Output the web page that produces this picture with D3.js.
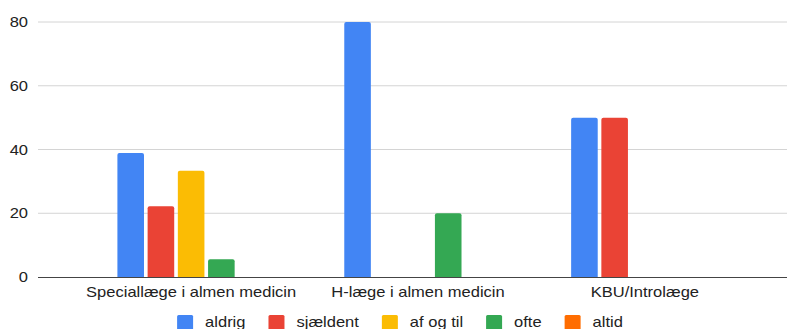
<!DOCTYPE html>
<html>
<head>
<meta charset="utf-8">
<script src="https://cdn.jsdelivr.net/npm/d3@7"></script>
<style>
  body { margin: 0; background: #fff; }
  text { font-family: "Liberation Sans", Arial, sans-serif; fill: #222; }
</style>
</head>
<body>
<div id="chart"></div>
<script>
// categories and series
var categories = ["Speciallæge i almen medicin", "H-læge i almen medicin", "KBU/Introlæge"];
var seriesNames = ["aldrig", "sjældent", "af og til", "ofte", "altid"];
var aldrig = [38.9, 80, 50];
var sjaeldent = [22.2, 0, 50];
var afOgTil = [33.3, 0, 0];
var ofte = [5.6, 20, 0];
var altid = [0, 0, 0];
var yTicks = [0, 20, 40, 60, 80];
var colors = ["#4285F4", "#EA4335", "#FBBC04", "#34A853", "#FF6D01"];

var seriesValues = [aldrig, sjaeldent, afOgTil, ofte, altid];

var width = 787, height = 329;
var margin = {top: 22, right: 0, bottom: 52, left: 38};
var stretch = 1.18; // text in the original looks a bit wide

var svg = d3.select("#chart").append("svg")
    .attr("width", width)
    .attr("height", height);

function place(x, yy) {
    return "translate(" + x + "," + yy + ") scale(" + stretch + ",1)";
}

var y = d3.scaleLinear()
    .domain([0, 80])
    .range([height - margin.bottom, margin.top]);

var x0 = d3.scaleBand()
    .domain(categories)
    .range([margin.left, 798])
    .paddingInner(0.35)
    .paddingOuter(0.35);

var x1 = d3.scaleBand()
    .domain(seriesNames)
    .range([0, x0.bandwidth()])
    .paddingInner(0.12);

var color = d3.scaleOrdinal().domain(seriesNames).range(colors);

// gridlines
svg.append("g")
    .selectAll("line")
    .data(yTicks.filter(d => d > 0))
    .enter().append("line")
    .attr("x1", margin.left)
    .attr("x2", width)
    .attr("y1", d => y(d))
    .attr("y2", d => y(d))
    .attr("stroke", "#d4d4d4")
    .attr("stroke-width", 1);

// y labels
svg.append("g")
    .selectAll("text")
    .data(yTicks)
    .enter().append("text")
    .attr("transform", d => place(28, y(d)))
    .attr("dy", "0.36em")
    .attr("text-anchor", "end")
    .attr("font-size", "14px")
    .text(d => d);

// bars
var rows = [];
categories.forEach(function(c, i) {
    seriesNames.forEach(function(s, j) {
        rows.push({cat: c, series: s, value: seriesValues[j][i]});
    });
});

svg.append("g")
    .selectAll("path")
    .data(rows.filter(d => d.value > 0))
    .enter().append("path")
    .attr("fill", d => color(d.series))
    .attr("d", function(d) {
        var bx = x0(d.cat) + x1(d.series), bw = x1.bandwidth();
        var top = y(d.value), bot = y(0), r = 2;
        return "M" + bx + "," + bot +
            "V" + (top + r) +
            "Q" + bx + "," + top + " " + (bx + r) + "," + top +
            "H" + (bx + bw - r) +
            "Q" + (bx + bw) + "," + top + " " + (bx + bw) + "," + (top + r) +
            "V" + bot + "Z";
    });

// baseline
svg.append("line")
    .attr("x1", margin.left)
    .attr("x2", width)
    .attr("y1", y(0) + 0.5)
    .attr("y2", y(0) + 0.5)
    .attr("stroke", "#444")
    .attr("stroke-width", 1.2);

// x labels
svg.append("g")
    .selectAll("text")
    .data(categories)
    .enter().append("text")
    .attr("transform", d => place(x0(d) + x0.bandwidth() / 2, 297))
    .attr("text-anchor", "middle")
    .attr("font-size", "14px")
    .text(d => d);

// legend
var legend = svg.append("g");
var lx = 0;
seriesNames.forEach(function(s) {
    var item = legend.append("g").attr("transform", "translate(" + lx + ",0)");
    item.append("rect")
        .attr("x", 0).attr("y", 315)
        .attr("width", 16).attr("height", 16)
        .attr("rx", 1.5)
        .attr("fill", color(s));
    var t = item.append("text")
        .attr("transform", place(28, 327))
        .attr("font-size", "14px")
        .text(s);
    lx += 28 + t.node().getComputedTextLength() * stretch + 23;
});
var legendW = lx - 23;
legend.attr("transform", "translate(" + (400 - legendW / 2) + ",0)");
</script>
</body>
</html>
